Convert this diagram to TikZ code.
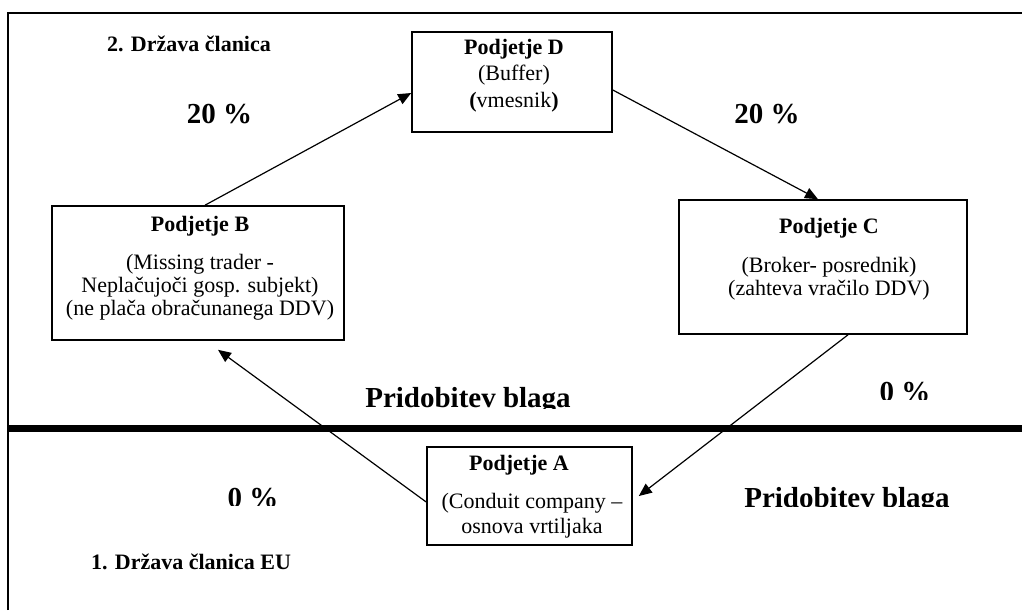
\documentclass[tikz,border=0pt]{standalone}
\usepackage{fontspec}
\setmainfont{Liberation Serif}
\usetikzlibrary{arrows.meta}
\begin{document}
\begin{tikzpicture}[x=1pt,y=-1pt,
  box/.style={draw, line width=1.6pt, inner sep=0pt},
  conn/.style={line width=1.2pt, -{Triangle[length=13pt,width=11pt]}},
  txt/.style={align=center, inner sep=0pt, font=\fontsize{22}{23}\selectfont},
  big/.style={inner sep=0pt, font=\fontsize{29}{30}\selectfont\bfseries},
  head/.style={inner sep=0pt, font=\fontsize{22}{23}\selectfont\bfseries}]
\useasboundingbox (0,0) rectangle (1022,610);
% outer frame (runs off the page at right and bottom)
\draw[line width=1.4pt] (8,610) -- (8,13) -- (1022,13);
% border between member states
\draw[line width=7pt] (8,428) -- (1022,428);
% boxes
\node[box, minimum width=200pt, minimum height=100pt] (D) at (512,82) {};
\node[box, minimum width=292pt, minimum height=134pt] (B) at (198,273) {};
\node[box, minimum width=288pt, minimum height=134pt] (C) at (823,267) {};
\node[box, minimum width=205pt, minimum height=98pt] (A) at (529.5,496) {};
% box texts (base anchor = baseline of the last line)
\node[txt, anchor=base] (Dt) at (514,107) {{\bfseries Podjetje D}\\[3pt](Buffer)\\[4pt]\textbf{(}vmesnik\textbf{)}};
\node[txt, anchor=base] (Bt) at (200,315) {{\bfseries Podjetje B}\\[15pt](Missing trader -\\Neplačujoči gosp. subjekt)\\(ne plača obračunanega DDV)};
\node[txt, anchor=base] (Ct) at (829,295) {{\bfseries Podjetje C}\\[16pt](Broker- posrednik)\\(zahteva vračilo DDV)};
\node[txt, anchor=base] (At) at (532,533) {{\bfseries Podjetje A}\hspace*{26pt}\\[15pt](Conduit company –\\[2pt]osnova vrtiljaka};
% connectors
\draw[conn] ([xshift=7pt]B.north) -- ([yshift=-11pt]D.west);
\draw[conn] ([yshift=-8pt]D.east) -- ([xshift=-5pt]C.north);
\draw[conn] ([xshift=25pt]C.south) -- ([xshift=6pt]A.east);
\draw[conn] ([yshift=-6pt]A.west) -- ([xshift=20pt,yshift=-9pt]B.south);
% labels
\node[head, anchor=base] (s2) at (189,52) {2. Država članica};
\node[head, anchor=base] (s1) at (191,569) {1. Država članica EU};
\node[big, anchor=base] (p20l) at (219.5,123) {20 \%};
\node[big, anchor=base] (p20r) at (767,123) {20 \%};
\begin{scope}
  \clip (340,370) rectangle (600,408);
  \node[big, anchor=base] (pb1) at (468,407) {Pridobitev blaga};
\end{scope}
\begin{scope}
  \clip (860,370) rectangle (950,399);
  \node[big, anchor=base] (p0r) at (905,401.5) {0 \%};
\end{scope}
\begin{scope}
  \clip (200,470) rectangle (300,505);
  \node[big, anchor=base] (p0l) at (253,507.5) {0 \%};
\end{scope}
\begin{scope}
  \clip (720,470) rectangle (980,506);
  \node[big, anchor=base] (pb2) at (847,507) {Pridobitev blaga};
\end{scope}
\end{tikzpicture}
\end{document}
